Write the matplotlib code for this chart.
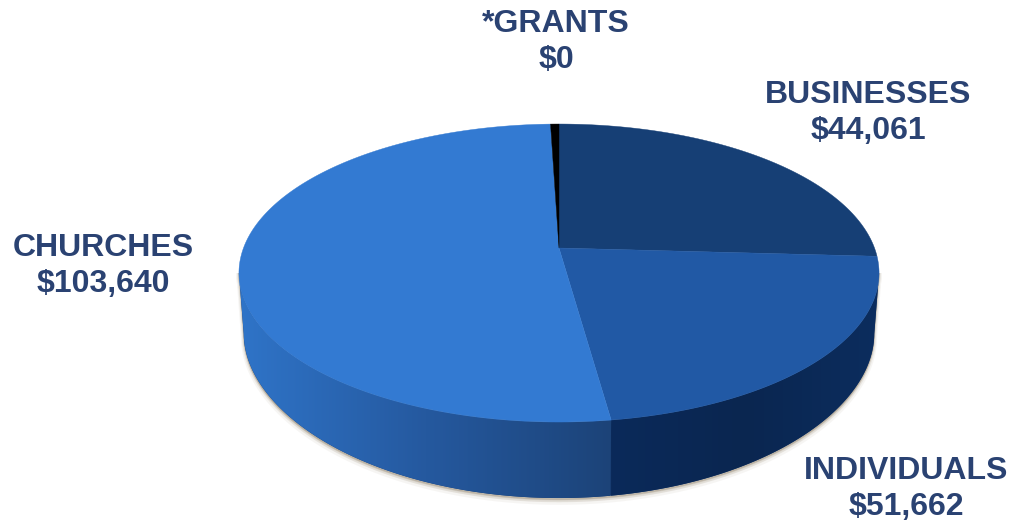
import numpy as np
import matplotlib
matplotlib.use("Agg")
import matplotlib.pyplot as plt
from matplotlib.patches import Polygon
from matplotlib.colors import LinearSegmentedColormap

plt.rcParams['font.family'] = ['Liberation Sans', 'DejaVu Sans']

# Slices clockwise from 12 o'clock. Shares are as drawn in the picture (percent)
names = ["BUSINESSES", "INDIVIDUALS", "CHURCHES", "*GRANTS"]
amounts = ["$44,061", "$51,662", "$103,640", "$0"]
shares = [25.9, 21.9, 51.7, 0.5]
top_colors = ["#163f75", "#2159a5", "#337ad2", "#000000"]
# left to right along the wall
wall_colors = [None, ["#0b2a5a", "#0a2650", "#0c2d5e"], ["#2f74c8", "#25599f", "#1c4378"], None]
label_pos = [(868, 113), (906, 489), (103, 266), (556, 42)]

# Perspective of the disc, in picture pixels
cx, cy = 559, 248
a, b, k = 315.5, 144.8, 0.168
base_scale = 0.985

def project(theta):
    w = 1 + k * np.sin(theta)
    return cx + a * np.cos(theta) / w, cy - b * np.sin(theta) / w

def project_base(theta):
    # bottom rim is a bit narrower and the wall is shorter at the sides
    x, y = project(theta)
    return cx + (x - cx) * base_scale, y + 60 + 16 * np.sin(theta) ** 2

fig = plt.figure(figsize=(10.27, 5.23), dpi=100)
ax = fig.add_axes([0, 0, 1, 1])
ax.set_xlim(0, 1027)
ax.set_ylim(523, 0)
ax.axis("off")

edges = np.pi / 2 - np.radians(np.cumsum([0] + shares) * 3.6)

# soft shadow under the wall
front = np.linspace(np.arcsin(-k), -np.pi - np.arcsin(-k), 300)
fx, fy = project(front)
bx, by = project_base(front)
for off, alpha in [(4, 0.07), (2.5, 0.12), (1.2, 0.25)]:
    pts = np.column_stack([np.r_[bx, fx[::-1]], np.r_[by + off, fy[::-1]]])
    ax.add_patch(Polygon(pts, fc="#8a7a60", ec="#8a7a60", lw=off, alpha=alpha, zorder=1))

# dark backing so no seam shows between the wall pieces
ax.add_patch(Polygon(np.column_stack([np.r_[bx, fx[::-1]], np.r_[by, fy[::-1]]]),
                     fc="#14366a", ec="none", zorder=1.5))

# side wall with a left to right gradient
for i in range(len(shares)):
    if wall_colors[i] is None:
        continue
    th = np.linspace(edges[i], edges[i + 1], 200)
    th = th[np.sin(th) <= -k]
    x, y = project(th)
    x2, y2 = project_base(th)
    pts = np.column_stack([np.r_[x, x2[::-1]], np.r_[y, y2[::-1]]])
    poly = Polygon(pts, fc="none", ec="none", transform=ax.transData)
    ax.add_patch(poly)
    cmap = LinearSegmentedColormap.from_list("w", wall_colors[i])
    im = ax.imshow(np.linspace(0, 1, 256)[None, :], cmap=cmap, aspect="auto",
                   extent=[x.min(), x.max(), y2.max(), y.min()], zorder=2)
    im.set_clip_path(poly)
ax.set_xlim(0, 1027)
ax.set_ylim(523, 0)

# top of the pie
for i in range(len(shares)):
    th = np.linspace(edges[i], edges[i + 1], 200)
    x, y = project(th)
    pts = np.column_stack([np.r_[cx, x], np.r_[cy, y]])
    ax.add_patch(Polygon(pts, fc=top_colors[i], ec=top_colors[i], lw=0.3, zorder=3))

for name, amount, (tx, ty) in zip(names, amounts, label_pos):
    ax.text(tx, ty, name + "\n" + amount, ha="center", va="center", color="#2a4272",
            fontsize=23, fontweight="bold", linespacing=1.3, zorder=5)

fig.savefig("out.png", dpi=100)
